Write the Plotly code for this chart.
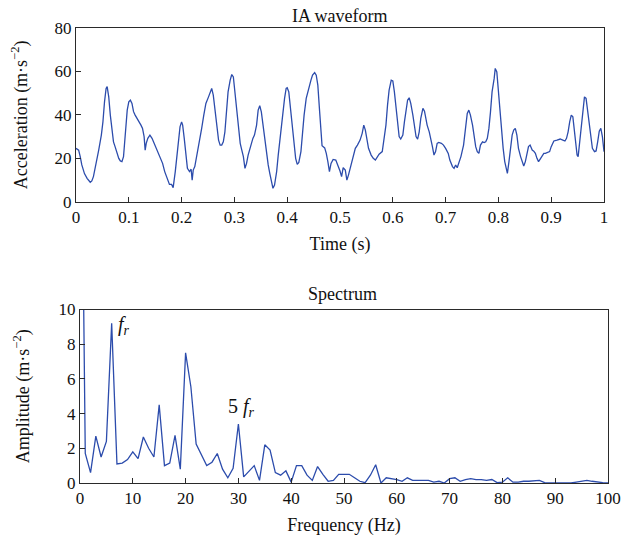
import plotly.graph_objects as go

# ---- IA waveform (time in s, acceleration in m·s^-2) ----
time_s = [
    0.000,0.005,0.008,0.011,0.016,0.021,0.027,0.030,0.033,0.038,0.043,0.048,0.051,0.054,0.057,
    0.059,0.062,0.065,0.068,0.071,0.074,0.078,0.081,0.084,0.087,0.090,0.093,0.097,0.100,0.103,
    0.106,0.109,0.112,0.116,0.119,0.123,0.126,0.129,0.131,0.133,0.136,0.140,0.144,0.149,0.153,
    0.159,0.164,0.168,0.173,0.177,0.181,0.184,0.188,0.191,0.194,0.197,0.200,0.202,0.205,0.208,
    0.211,0.215,0.218,0.220,0.222,0.225,0.228,0.233,0.238,0.242,0.246,0.251,0.254,0.257,0.260,
    0.263,0.266,0.270,0.273,0.276,0.279,0.282,0.285,0.288,0.292,0.295,0.298,0.301,0.304,0.307,
    0.311,0.314,0.317,0.320,0.323,
    0.326,0.331,0.335,0.338,0.342,0.345,0.348,0.351,0.354,0.357,0.360,0.364,0.367,0.370,0.373,
    0.376,0.380,0.383,0.386,0.389,0.392,0.395,0.398,0.400,0.403,0.406,0.410,0.413,0.416,0.419,
    0.422,0.426,0.429,0.432,0.436,0.441,0.445,0.448,0.452,0.455,0.458,0.461,0.464,0.466,0.471,
    0.474,0.477,0.480,0.483,0.487,
    0.492,0.496,0.500,0.503,0.506,0.510,0.513,0.516,0.521,0.525,0.529,0.533,0.538,0.542,0.545,
    0.548,0.551,0.554,0.559,0.563,0.567,0.571,0.574,0.580,0.583,0.587,0.590,0.593,0.597,0.600,
    0.603,0.606,0.609,0.612,0.615,0.619,0.622,0.625,0.628,0.631,0.634,0.638,0.641,0.644,0.647,
    0.650,0.653,0.657,0.660,
    0.665,0.669,0.672,0.675,0.678,0.681,0.684,0.687,0.692,0.696,0.700,0.705,0.708,0.713,0.716,
    0.719,0.722,0.725,0.729,0.734,0.738,0.741,0.744,0.747,0.751,0.754,0.757,0.760,0.763,0.766,
    0.770,0.773,0.776,0.779,0.782,0.785,0.788,0.792,0.794,0.797,0.799,0.802,0.805,0.809,0.812,
    0.815,0.817,0.820,0.823,0.826,
    0.829,0.832,0.835,0.838,0.842,0.845,0.848,0.851,0.854,0.857,0.860,0.864,0.867,0.870,0.873,
    0.876,0.880,0.883,0.886,0.889,0.894,0.897,0.900,0.905,0.911,0.917,0.922,0.926,0.929,0.932,
    0.935,0.938,0.941,0.943,0.946,0.949,0.951,0.954,0.957,0.960,0.963,0.966,0.969,0.972,0.975,
    0.978,0.982,0.985,0.988,0.991,0.994,0.997,1.000,
]
accel = [
    24.6,23.8,20.8,17.0,13.0,10.8,9.0,9.6,11.6,17.0,23.8,30.7,36.8,46.0,52.2,
    53.0,48.3,39.9,32.2,27.6,25.4,22.3,20.0,18.8,18.5,20.8,32.2,42.2,46.0,46.8,
    45.3,41.5,39.9,38.4,36.8,35.3,33.8,30.0,23.8,26.9,29.2,30.7,29.2,26.1,23.8,
    20.0,17.7,13.9,10.8,8.0,8.0,6.5,13.9,21.5,29.2,34.5,36.8,35.3,29.2,21.5,
    15.4,13.9,15.0,10.0,14.6,16.2,20.0,26.1,33.8,39.9,45.3,48.3,50.6,52.2,49.1,
    43.0,35.3,28.4,26.1,26.1,27.6,32.2,41.4,50.6,56.0,58.6,57.5,50.6,43.0,33.8,
    26.9,23.8,20.8,15.4,17.7,
    21.5,26.1,29.2,30.7,35.3,42.2,44.2,41.4,35.3,29.2,23.1,17.0,13.1,9.3,6.2,
    7.7,13.9,21.5,28.4,35.3,41.4,47.6,52.2,52.5,50.6,43.0,33.8,26.1,20.0,17.2,
    18.1,23.1,32.2,39.9,47.6,53.0,56.0,58.3,59.5,58.3,53.7,43.0,32.2,25.8,24.8,
    22.3,18.5,13.9,17.7,19.5,
    19.2,16.9,14.2,11.6,15.7,14.6,10.0,12.3,16.9,21.5,24.6,26.1,28.4,31.5,35.3,
    33.0,28.4,24.6,21.5,20.0,19.2,20.8,21.9,23.1,27.6,35.3,44.5,51.4,56.0,55.6,
    50.6,43.0,35.3,30.0,28.9,30.7,36.8,43.0,46.8,47.9,45.3,39.9,33.8,30.0,28.9,
    32.2,38.4,43.0,41.7,
    35.3,32.2,29.2,25.4,21.5,23.1,26.9,27.3,26.9,26.1,24.6,22.3,19.2,16.2,15.4,
    16.9,15.7,17.7,20.8,26.1,33.8,40.7,42.2,39.9,35.3,29.2,25.4,23.1,22.3,26.1,
    27.6,27.3,27.6,29.2,33.8,41.4,50.6,56.8,61.4,59.8,53.7,44.5,33.8,24.6,18.5,
    15.4,13.1,18.5,26.1,30.7,
    33.0,33.8,30.7,24.6,20.8,18.5,16.5,18.5,22.3,25.4,26.1,23.8,23.3,22.3,20.0,
    18.5,20.0,21.5,22.3,22.3,22.7,23.1,25.4,28.0,28.4,28.9,28.4,28.0,29.2,32.2,
    36.8,39.9,39.1,33.8,27.6,21.5,20.8,27.6,35.3,43.0,48.3,47.6,42.2,35.3,29.2,
    24.6,23.1,23.4,27.6,32.5,33.8,29.9,23.1,
]

# ---- Spectrum (frequency in Hz, amplitude in m·s^-2) ----
freq_hz = list(range(0, 101))
amplitude = [
    30.0, 1.7, 0.6, 2.7, 1.5, 2.4, 9.2, 1.1, 1.15, 1.35,
    1.8, 1.4, 2.65, 2.0, 1.5, 4.5, 1.0, 1.15, 2.75, 0.8,
    7.5, 5.55, 2.25, 1.6, 1.0, 1.2, 1.7, 0.8, 0.3, 0.85,
    3.4, 0.35, 0.7, 1.0, 0.15, 2.2, 1.9, 0.6, 0.45, 0.7,
    0.05, 1.0, 1.0, 0.45, 0.15, 0.95, 0.5, 0.1, 0.15, 0.5,
    0.5, 0.5, 0.3, 0.1, 0.02, 0.45, 1.05, 0.0, 0.3, 0.25,
    0.2, 0.1, 0.3, 0.15, 0.15, 0.18, 0.15, 0.05, 0.1, 0.0,
    0.25, 0.3, 0.1, 0.2, 0.25, 0.2, 0.2, 0.15, 0.2, 0.02,
    0.05, 0.3, 0.05, 0.05, 0.1, 0.1, 0.13, 0.15, 0.02, 0.03,
    0.0, 0.0, 0.0, 0.0, 0.05, 0.1, 0.15, 0.1, 0.05, 0.02,
    0.0,
]

time_ticks = [0, 0.1, 0.2, 0.3, 0.4, 0.5, 0.6, 0.7, 0.8, 0.9, 1]
time_labels = ["0", "0.1", "0.2", "0.3", "0.4", "0.5", "0.6", "0.7", "0.8", "0.9", "1"]
accel_ticks = [0, 20, 40, 60, 80]
freq_ticks = [0, 10, 20, 30, 40, 50, 60, 70, 80, 90, 100]
amp_ticks = [0, 2, 4, 6, 8, 10]

LINE = "#2c4cac"
FONT = "Liberation Serif"
AX = "#2a2a2a"
TXT = "#111111"

fig = go.Figure()
fig.add_trace(go.Scatter(x=time_s, y=accel, mode="lines",
                         line=dict(color=LINE, width=1.3), xaxis="x", yaxis="y",
                         showlegend=False, hoverinfo="skip"))
fig.add_trace(go.Scatter(x=freq_hz, y=amplitude, mode="lines",
                         line=dict(color=LINE, width=1.3), xaxis="x2", yaxis="y2",
                         showlegend=False, hoverinfo="skip"))

axis_common = dict(showgrid=False, zeroline=False, showline=True, mirror=True,
                   linecolor=AX, linewidth=1, ticks="inside", ticklen=5,
                   tickcolor=AX, tickwidth=1, automargin=False,
                   tickfont=dict(family=FONT, size=17, color=TXT))

title_font = dict(family=FONT, size=18, color=TXT)

fig.update_layout(
    width=626, height=548,
    margin=dict(l=76, r=18, t=28, b=65),
    paper_bgcolor="white", plot_bgcolor="white",
    font=dict(family=FONT, size=17, color=TXT),
    xaxis=dict(axis_common, domain=[0, 0.9925], range=[0, 1], anchor="y",
               tickvals=time_ticks, ticktext=time_labels,
               title=dict(text="Time (s)", font=title_font, standoff=11)),
    yaxis=dict(axis_common, domain=[0.618, 1.0], range=[0, 80], anchor="x",
               tickvals=accel_ticks,
               title=dict(text="Acceleration (m·s<sup>−2</sup>)", font=title_font, standoff=22)),
    xaxis2=dict(axis_common, domain=[0.0075, 1.0], range=[0, 100], anchor="y2",
                tickvals=freq_ticks,
                title=dict(text="Frequency (Hz)", font=title_font, standoff=10)),
    yaxis2=dict(axis_common, domain=[0.0, 0.3813], range=[0, 10], anchor="x2",
                tickvals=amp_ticks,
                title=dict(text="Amplitude (m·s<sup>−2</sup>)", font=title_font, standoff=24)),
    annotations=[
        dict(text="IA waveform", xref="paper", yref="paper", x=0.496, y=1.0,
             xanchor="center", yanchor="bottom", showarrow=False, yshift=0,
             font=title_font),
        dict(text="Spectrum", xref="paper", yref="paper", x=0.5, y=0.3813,
             xanchor="center", yanchor="bottom", showarrow=False, yshift=4,
             font=title_font),
        dict(text="<i>f</i><sub><i>r</i></sub>", xref="x2", yref="y2", x=6.9, y=9.1,
             xanchor="left", yanchor="middle", showarrow=False,
             font=dict(family=FONT, size=20, color=TXT)),
        dict(text="5 <i>f</i><sub><i>r</i></sub>", xref="x2", yref="y2", x=30.5, y=4.35,
             xanchor="center", yanchor="middle", showarrow=False,
             font=dict(family=FONT, size=20, color=TXT)),
    ],
)

fig.write_html("out.html", config={"displayModeBar": False},
               post_script="document.body.style.margin='0px';")
